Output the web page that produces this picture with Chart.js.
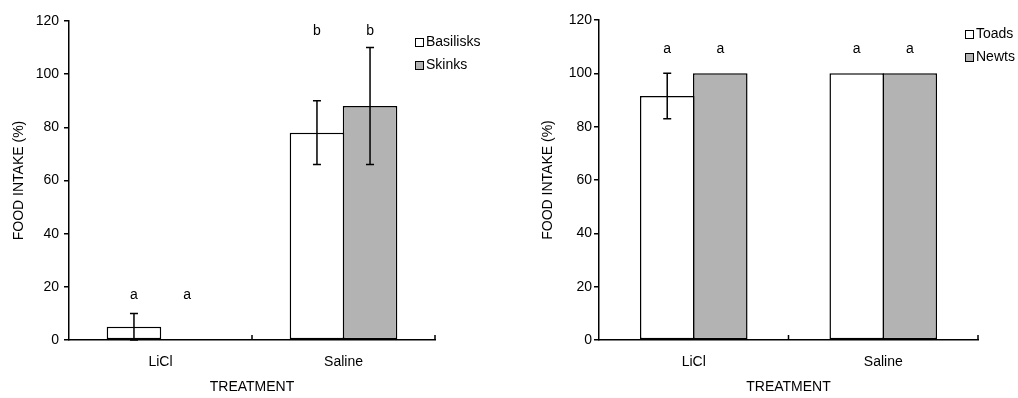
<!DOCTYPE html>
<html>
<head>
<meta charset="utf-8">
<script src="https://cdn.jsdelivr.net/npm/chart.js@4/dist/chart.umd.min.js"></script>
<style>
body{margin:0;background:#fff}
#wrap{position:relative;width:1018px;height:398px}
canvas{position:absolute;top:0}
</style>
</head>
<body>
<div id="wrap">
  <canvas id="c1" width="509" height="398" style="left:0"></canvas>
  <canvas id="c2" width="509" height="398" style="left:509px"></canvas>
</div>
<script>
// data
const treatments = ['LiCl', 'Saline'];

const basilisks = [5, 78];
const basiliskLow = [0, 66];
const basiliskHigh = [10, 90];
const skinks = [0, 88];
const skinkLow = [null, 66];
const skinkHigh = [null, 110];
const lizardLetters = ['a', 'b'];
const lizardLetterY = [17, 116];

const toads = [91.5, 100];
const toadLow = [83, null];
const toadHigh = [100, null];
const newts = [100, 100];
const amphibLetters = ['a', 'a'];
const amphibLetterY = [109, 109];

const yMin = 0, yMax = 120, yStep = 20;

const FONT = 'Liberation Sans, Arial, sans-serif';
const GREY = '#b3b3b3';

Chart.defaults.font.family = FONT;
Chart.defaults.font.size = 14;
Chart.defaults.color = '#000';

const extras = {
  id: 'extras',
  afterDatasetsDraw(chart, args, opts) {
    const ctx = chart.ctx, y = chart.scales.y, x = chart.scales.x;
    ctx.save();
    ctx.strokeStyle = '#000';
    ctx.fillStyle = '#000';
    ctx.lineWidth = 1.5;
    ctx.font = '14px ' + FONT;
    ctx.textAlign = 'center';
    ctx.textBaseline = 'middle';
    chart.data.datasets.forEach((ds, di) => {
      const meta = chart.getDatasetMeta(di);
      meta.data.forEach((bar, i) => {
        if (ds.errHigh && ds.errHigh[i] != null) {
          const top = y.getPixelForValue(ds.errHigh[i]);
          const bot = y.getPixelForValue(ds.errLow[i]);
          ctx.beginPath();
          ctx.moveTo(bar.x, top); ctx.lineTo(bar.x, bot);
          ctx.moveTo(bar.x - 4, top); ctx.lineTo(bar.x + 4, top);
          ctx.moveTo(bar.x - 4, bot); ctx.lineTo(bar.x + 4, bot);
          ctx.stroke();
        }
        ctx.fillText(opts.letters[i], bar.x, y.getPixelForValue(opts.letterY[i]));
      });
    });
    // small upward tick marks between / after categories
    const step = x.getPixelForValue(1) - x.getPixelForValue(0);
    ctx.beginPath();
    for (let i = 0; i < chart.data.labels.length; i++) {
      const px = x.getPixelForValue(i) + step / 2;
      ctx.moveTo(px, y.bottom); ctx.lineTo(px, y.bottom - 5);
    }
    ctx.stroke();
    // legend
    ctx.textAlign = 'left';
    ctx.lineWidth = 1;
    chart.data.datasets.forEach((ds, di) => {
      const ly = opts.legendY + di * 23;
      ctx.fillStyle = ds.backgroundColor;
      ctx.fillRect(opts.legendX, ly - 4, 8, 8);
      ctx.strokeRect(opts.legendX + 0.5, ly - 3.5, 8, 8);
      ctx.fillStyle = '#000';
      ctx.fillText(ds.label, opts.legendX + 11, ly);
    });
    ctx.restore();
  }
};

function makeChart(id, sets, cfg) {
  return new Chart(document.getElementById(id), {
    type: 'bar',
    data: {
      labels: treatments,
      datasets: sets.map(s => ({
        label: s.label,
        data: s.data,
        errLow: s.low,
        errHigh: s.high,
        backgroundColor: s.color,
        borderColor: '#000',
        borderWidth: 1.5,
        borderSkipped: false,
        inflateAmount: 0,
        categoryPercentage: cfg.cat,
        barPercentage: 1.028
      }))
    },
    options: {
      responsive: false,
      animation: false,
      layout: { padding: { left: 0, top: cfg.top, right: cfg.right, bottom: 0 } },
      plugins: {
        legend: { display: false },
        tooltip: { enabled: false },
        extras: { letters: cfg.letters, letterY: cfg.letterY, legendX: cfg.legendX, legendY: cfg.legendY }
      },
      scales: {
        x: {
          grid: { display: true, drawOnChartArea: false, drawTicks: false, color: 'rgba(0,0,0,0)' },
          border: { color: '#000', width: 1.5 },
          ticks: { padding: 14, font: { size: 14 } },
          title: { display: true, text: 'TREATMENT', font: { size: 14 }, padding: { top: 0, bottom: 2 } },
          afterFit: s => { s.height = 58; }
        },
        y: {
          min: yMin, max: yMax,
          ticks: { stepSize: yStep, padding: cfg.tickPad, font: { size: 14 } },
          grid: { drawOnChartArea: false, color: '#000', tickLength: 5, lineWidth: 1.5 },
          border: { color: '#000', width: 1.5 },
          title: { display: true, text: 'FOOD INTAKE (%)', font: { size: 14 }, padding: { top: cfg.titlePad, bottom: 0 } },
          afterFit: s => { s.width = cfg.yWidth; }
        }
      }
    },
    plugins: [extras]
  });
}

makeChart('c1', [
  { label: 'Basilisks', data: basilisks, low: basiliskLow, high: basiliskHigh, color: '#ffffff' },
  { label: 'Skinks', data: skinks, low: skinkLow, high: skinkHigh, color: GREY }
], { cat: 0.58, top: 21, right: 74, yWidth: 69, tickPad: 5, titlePad: 11,
     letters: lizardLetters, letterY: lizardLetterY, legendX: 415, legendY: 42 });

makeChart('c2', [
  { label: 'Toads', data: toads, low: toadLow, high: toadHigh, color: '#ffffff' },
  { label: 'Newts', data: newts, low: null, high: null, color: GREY }
], { cat: 0.56, top: 20, right: 40, yWidth: 90, tickPad: 2, titlePad: 31,
     letters: amphibLetters, letterY: amphibLetterY, legendX: 456, legendY: 34 });
</script>
</body>
</html>
